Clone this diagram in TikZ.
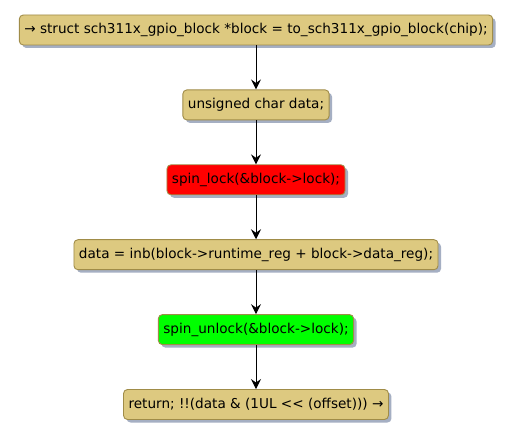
\documentclass[tikz,border=0pt]{standalone}
\usepackage{fontspec}
\setmainfont{DejaVu Sans}
\usepackage{tikz}
\usetikzlibrary{arrows.meta,positioning,shadows}
\definecolor{actfill}{RGB}{221,201,128}
\definecolor{actdraw}{RGB}{160,140,72}
\definecolor{actshadow}{RGB}{165,175,195}
\definecolor{lockred}{RGB}{255,0,0}
\definecolor{lockgreen}{RGB}{0,255,0}
\tikzset{
  actbox/.style={draw=actdraw, fill=actfill, rounded corners=4pt, line width=0.9pt,
    minimum height=30pt, inner xsep=5pt, inner ysep=0pt, font=\fontsize{13.6}{16}\selectfont,
    drop shadow={shadow xshift=3pt, shadow yshift=-3pt, fill=actshadow, opacity=1}},
  lockbox/.style={actbox, fill=lockred},
  unlockbox/.style={actbox, fill=lockgreen},
  actline/.style={-{Stealth[length=10pt,width=10pt,inset=3.5pt]}, line width=0.9pt}
}
\begin{document}
\begin{tikzpicture}[node distance=44pt]
  \useasboundingbox[fill=white] (0,0) rectangle (515pt,-433pt);
  \node[actbox] (blk) at (256pt,-30pt) {→ struct sch311x\_gpio\_block *block = to\_sch311x\_gpio\_block(chip);};
  \node[actbox, below=of blk] (decl) {unsigned char data;};
  \node[lockbox, below=of decl] (lock) {spin\_lock(\&block->lock);};
  \node[actbox, below=of lock] (read) {data = inb(block->runtime\_reg + block->data\_reg);};
  \node[unlockbox, below=of read] (unlock) {spin\_unlock(\&block->lock);};
  \node[actbox, below=of unlock] (ret) {return; !!(data \& (1UL <{}< (offset))) →};
  \draw[actline] (blk) -- (decl);
  \draw[actline] (decl) -- (lock);
  \draw[actline] (lock) -- (read);
  \draw[actline] (read) -- (unlock);
  \draw[actline] (unlock) -- (ret);
\end{tikzpicture}
\end{document}
